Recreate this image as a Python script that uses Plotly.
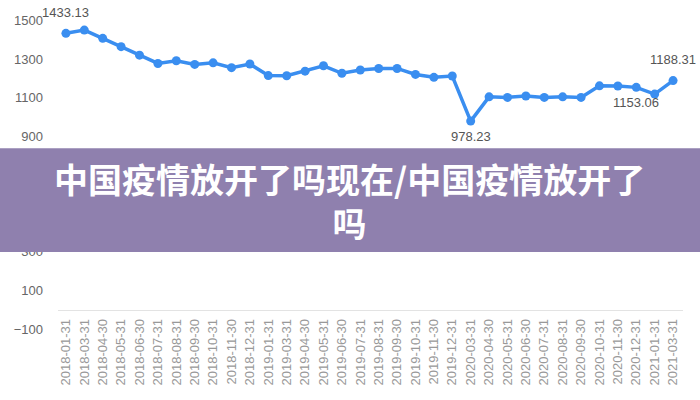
import plotly.graph_objects as go

dates = ['2018-01-31', '2018-03-31', '2018-04-30', '2018-05-31', '2018-06-30', '2018-07-31',
         '2018-08-31', '2018-09-30', '2018-10-31', '2018-11-30', '2018-12-31', '2019-01-31',
         '2019-03-31', '2019-04-30', '2019-05-31', '2019-06-30', '2019-07-31', '2019-08-31',
         '2019-09-30', '2019-10-31', '2019-11-30', '2019-12-31', '2020-03-31', '2020-04-30',
         '2020-05-31', '2020-06-30', '2020-07-31', '2020-08-31', '2020-09-30', '2020-10-31',
         '2020-11-30', '2020-12-31', '2021-01-31', '2021-03-31']

values = [1433.13, 1450, 1407, 1364, 1320, 1277,
          1291, 1272, 1280, 1255, 1274, 1214,
          1213, 1237, 1265, 1226, 1243, 1251,
          1251, 1220, 1205, 1212, 978.23, 1104,
          1101, 1108, 1101, 1104, 1101, 1161,
          1160, 1153.06, 1118, 1188.31]

# which points get a value label: index -> above (True) or below (False)
labeled = {0: True, 22: False, 31: False, 33: True}

y_ticks = [-100, 100, 300, 500, 700, 900, 1100, 1300, 1500]

title_text = '中国疫情放开了吗现在/中国疫情放开了<br>吗'

fig = go.Figure()
fig.add_trace(go.Scatter(
    x=dates, y=values,
    mode='lines+markers',
    line=dict(color='#3a8ef0', width=3.5),
    marker=dict(color='#3a8ef0', size=9),
    cliponaxis=False,
    hoverinfo='skip',
))

for i, above in labeled.items():
    fig.add_annotation(x=dates[i], y=values[i], text='{:.2f}'.format(values[i]),
                       showarrow=False, xanchor='center', yanchor='middle',
                       yshift=21 if above else -15,
                       font=dict(family='Liberation Sans, Arial', size=13, color='#555555'))

# purple banner across the chart
fig.add_shape(type='rect', xref='paper', yref='y',
              x0=-0.2, x1=1.2, y0=299, y1=838,
              fillcolor='#8f80ae', line=dict(width=0), layer='above')

fig.add_annotation(text=title_text, xref='paper', yref='y', x=0.467, y=565,
                   showarrow=False, xanchor='center', yanchor='middle',
                   font=dict(family='Noto Sans CJK SC', size=34, color='white', weight='bold'))

fig.update_layout(
    width=700, height=400,
    margin=dict(l=58, r=17, t=5, b=69),
    paper_bgcolor='white', plot_bgcolor='white',
    showlegend=False,
)

fig.update_xaxes(
    type='category', range=[-0.43, 33.54],
    anchor='free', position=(0 + 110) / 1690,
    showline=True, linecolor='#e3e3e3', linewidth=1,
    showgrid=False, zeroline=False, ticks='',
    tickangle=-90, ticklabelstandoff=3, automargin=False,
    tickfont=dict(family='Liberation Sans, Arial', size=13, color='#999999'),
)

fig.update_yaxes(
    range=[-110, 1580], tickvals=y_ticks,
    showgrid=False, zeroline=False, showline=False,
    ticklabelstandoff=14, automargin=False,
    tickfont=dict(family='Liberation Sans, Arial', size=13, color='#666666'),
)

# drop the browser's default page margin so the figure sits at the corner
fig.write_html('out.html', config={'displayModeBar': False},
               post_script="document.body.style.margin = '0';")
